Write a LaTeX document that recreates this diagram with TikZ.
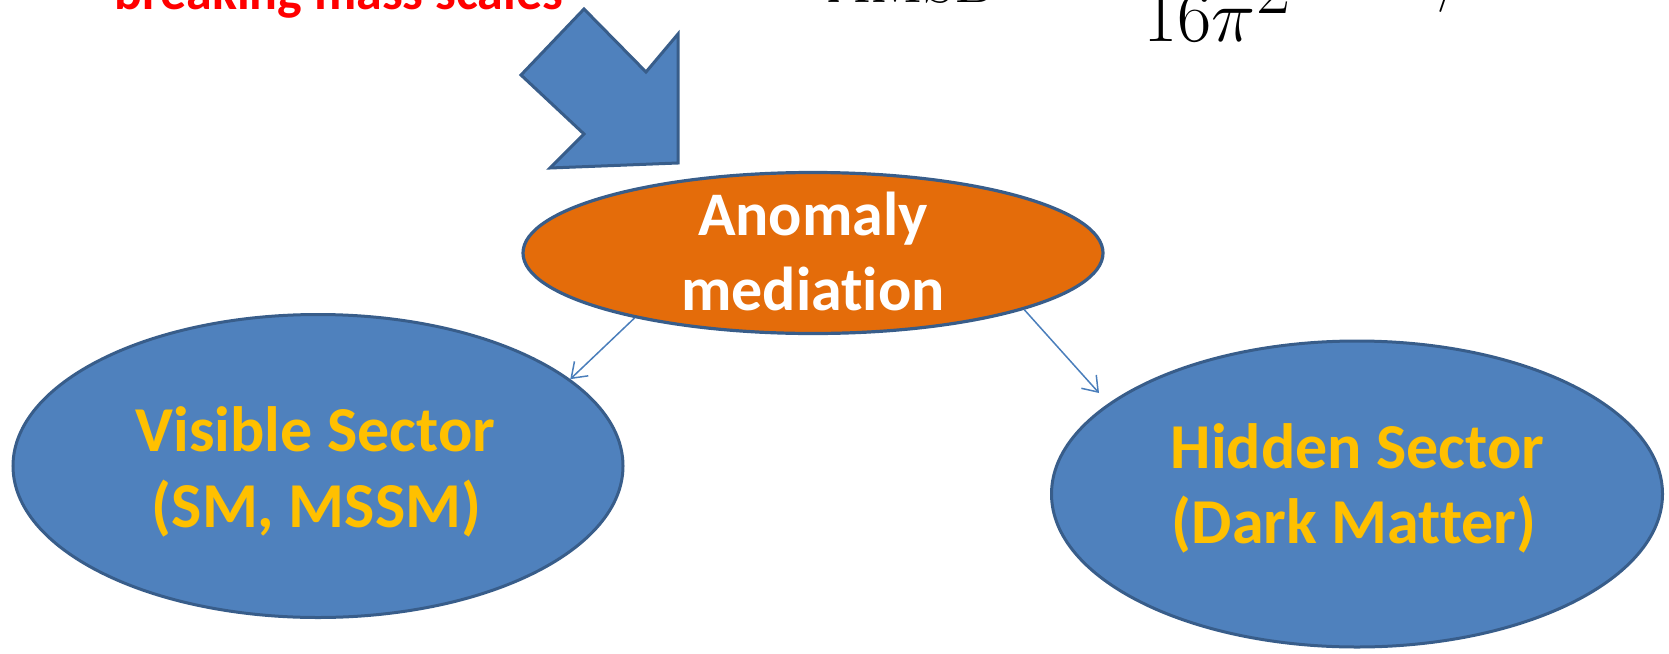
\documentclass[tikz,border=0pt]{standalone}
\usepackage{fontspec}
\newfontfamily\calibri[Ligatures={NoCommon}]{Carlito}
\usetikzlibrary{shapes.geometric,arrows.meta}
\definecolor{fillblue}{HTML}{4F81BD}
\definecolor{edgeblue}{HTML}{385D8A}
\definecolor{anomorange}{HTML}{E46C0A}
\definecolor{sectortext}{HTML}{FFC000}
\definecolor{linkblue}{HTML}{4A7EBB}
\definecolor{headred}{HTML}{FF0000}
\begin{document}
\begin{tikzpicture}[x=0.5pt,y=-0.5pt,
  sector/.style={ellipse, draw=edgeblue, fill=fillblue, line width=1.5pt, inner sep=0pt},
  anomshape/.style={ellipse, draw=edgeblue, fill=anomorange, line width=1.6pt, inner sep=0pt,
    minimum width=290pt, minimum height=80.5pt},
  sectorline/.style={anchor=base, inner sep=0pt, text=sectortext,
    font=\calibri\bfseries\fontsize{32}{38}\selectfont},
  anomline/.style={anchor=base, inner sep=0pt, text=white,
    font=\calibri\bfseries\fontsize{31}{37}\selectfont},
  headline/.style={anchor=base west, inner sep=0pt, text=headred,
    font=\calibri\bfseries\fontsize{26}{31}\selectfont},
  formula/.style={anchor=base west, inner sep=0pt, text=black},
  link/.style={draw=linkblue, line width=0.75pt, -{Straight Barb[length=7pt,width=10pt]}},
  bigarrow/.style={draw=edgeblue, fill=fillblue, line width=1.5pt, line join=miter}
]
\useasboundingbox (0,0) rectangle (1669,653);
\clip (0,0) rectangle (1669,653);

% top texts (cut by the picture edge)
\node[headline] (head) at (114,10) {breaking mass scales};
\node[formula, font=\fontsize{31}{36}\selectfont] (fsub) at (827,3) {AMSB};
\node[formula, font=\fontsize{20.74}{25}\selectfont] (fden) at (1143,41) {\scalebox{1.8}{$16\pi^{\textstyle 2}$}};
\node[formula, font=\fontsize{26}{31}\selectfont] (fslash) at (1437,-1) {/};

% big arrow
\draw[bigarrow] (584,9) -- (646,72) -- (678,34) -- (678,163) -- (550,168)
  -- (584,134) -- (521,75) -- cycle;

% ellipses
\node[anomshape] (anom) at (813,253) {};
\node[sector, minimum width=305pt, minimum height=151.5pt] (vis) at (318,466) {};
\node[sector, minimum width=305.5pt, minimum height=153pt] (hid) at (1357,494) {};
\coordinate (hidtip) at (1099,393);

% texts
\node[anomline] (anomA) at (813,235) {Anomaly};
\node[anomline] (anomB) at (813,310) {mediation};
\node[sectorline] (visA) at (315.5,451) {Visible Sector};
\node[sectorline] (visB) at (316.5,527) {(SM, MSSM)};
\node[sectorline] (hidA) at (1357.5,468) {Hidden Sector};
\node[sectorline] (hidB) at (1354,543) {(Dark Matter)};

% connectors
\draw[link] (anom.200) -- (vis.19);
\draw[link] (anom.-15) -- (hidtip);
\end{tikzpicture}
\end{document}
